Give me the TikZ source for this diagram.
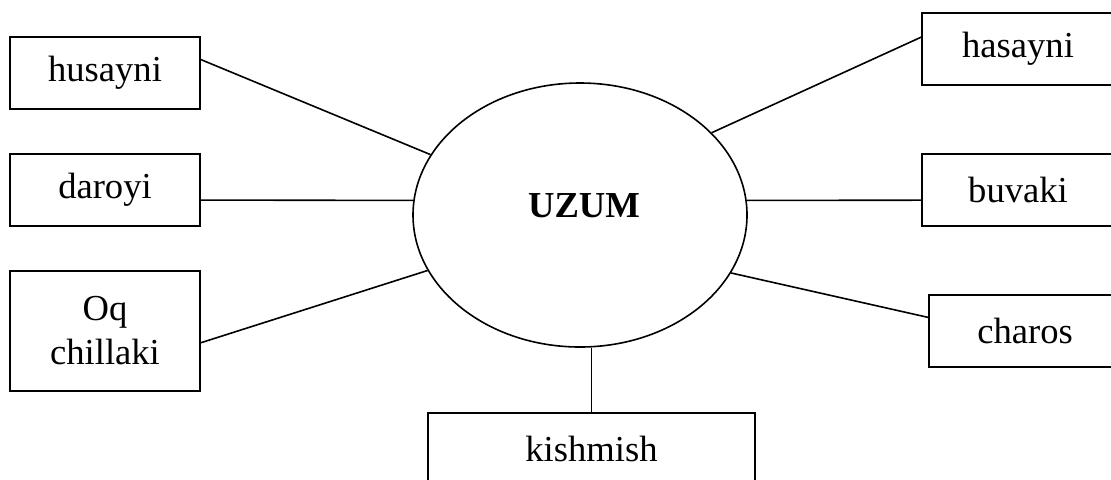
\documentclass[tikz,border=0pt]{standalone}
\usepackage{fontspec}
\setmainfont{Liberation Serif}
\usetikzlibrary{shapes.geometric}
\usetikzlibrary{calc}
\tikzset{
	sort/.style={draw, line width=0.8pt, rectangle, inner sep=0pt, minimum width=95pt, minimum height=36pt, align=center, font=\fontsize{18.3}{22}\selectfont},
	hub/.style={draw, line width=0.8pt, ellipse, minimum width=167pt, minimum height=132pt, inner sep=0pt},
	link/.style={line width=0.8pt}
}

\begin{document}
\begin{tikzpicture}[x=0.5pt, y=-0.5pt]
			\useasboundingbox (0,0) rectangle (1111,479);
			\clip (0,0) rectangle (1111,479);
			\node [hub, label={[font=\fontsize{18.3}{22}\selectfont\bfseries, yshift=4.5pt, xshift=2pt]center:UZUM}] (uzum) at (580,215) {};
			\node [sort] (husayni) at (105,73) {husayni};
			\node [sort] (daroyi) at (105,190) {daroyi};
			\node [sort, minimum height=60pt] (oqchillaki) at (105,331) {Oq\\chillaki};
			\node [sort, minimum width=96pt] (hasayni) at (1018,49) {hasayni};
			\node [sort, minimum width=96pt] (buvaki) at (1018,190) {buvaki};
			\node [sort, minimum width=96pt] (charos) at (1025,331) {charos};
			\node [sort, minimum width=163.5pt] (kishmish) at (591.5,449) {kishmish};
			\draw [link] (husayni.8) -- (uzum.158);
			\draw [link] (daroyi.-6) -- (uzum.175);
			\draw [link] (oqchillaki.-7) -- (uzum.200);
			\draw [link] (hasayni.173) -- (uzum.32);
			\draw [link] (buvaki.186) -- (uzum.5);
			\draw [link] (charos.172) -- (uzum.-21);
			\draw [link] (kishmish.north) -- (kishmish.north |- uzum.south);
		\end{tikzpicture}
\end{document}
